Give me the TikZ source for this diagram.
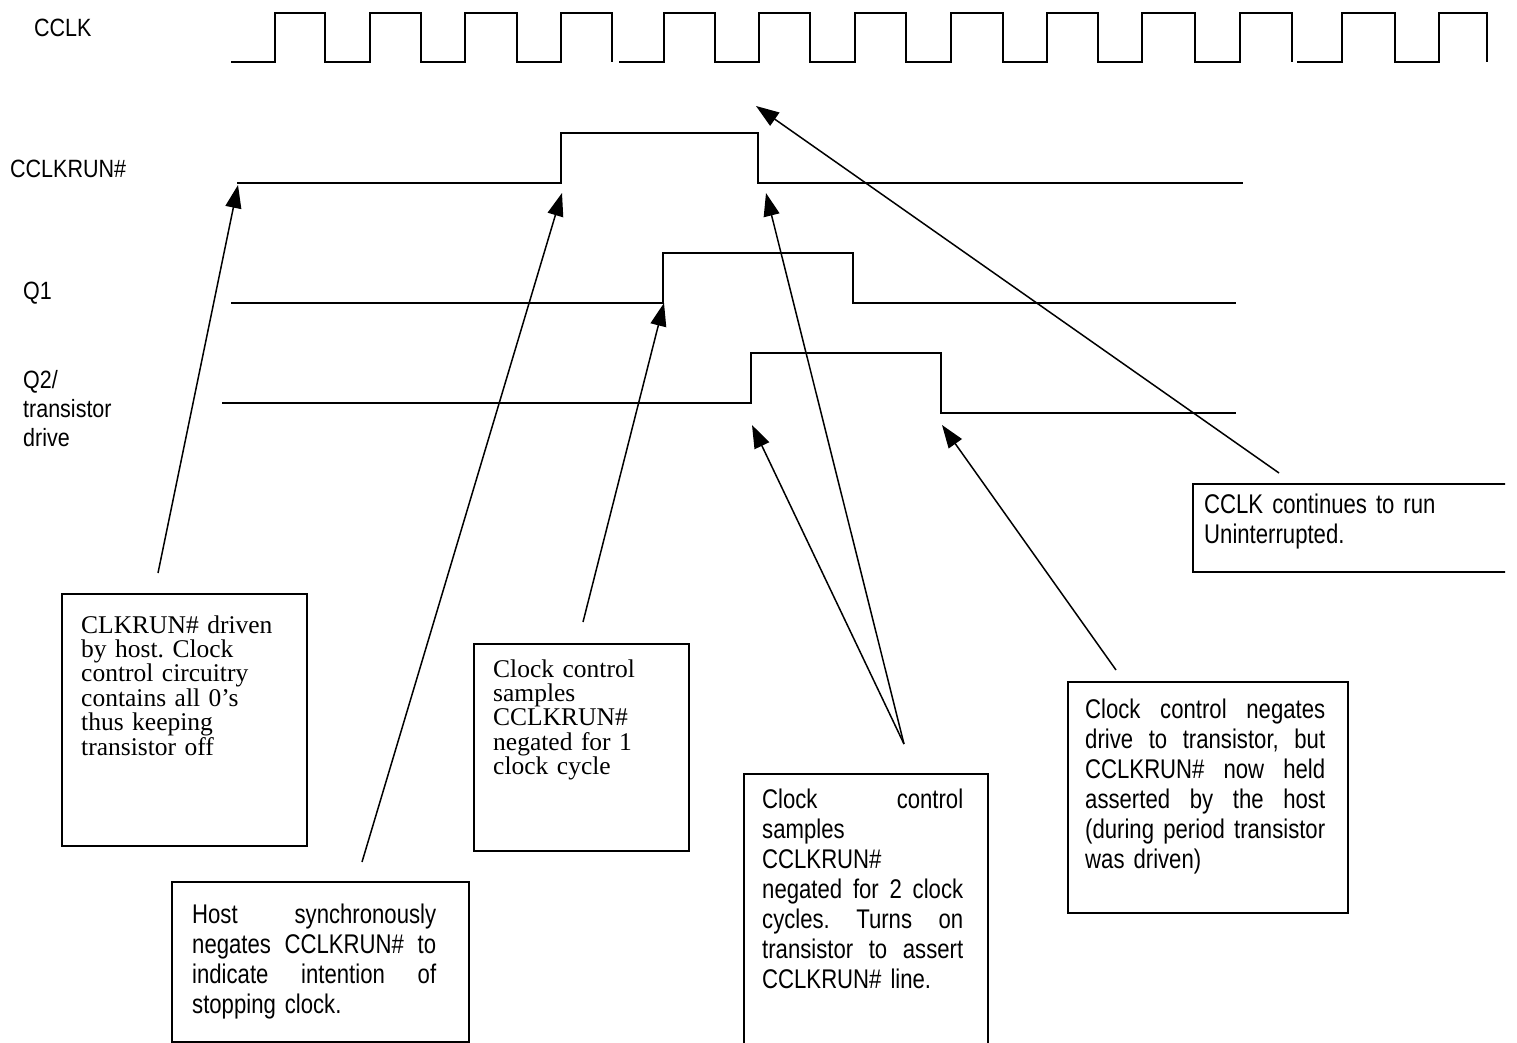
\documentclass[tikz,border=0pt]{standalone}
\usepackage{fontspec}
\setmainfont{Liberation Serif}
\newfontfamily\boxsans[FakeStretch=0.82]{Liberation Sans}
\newfontfamily\labsans[FakeStretch=0.86]{Liberation Sans}
\usetikzlibrary{arrows.meta}
\frenchspacing
\tikzset{
  sig/.style={line width=2pt, line join=miter},
  arr/.style={-{Triangle[length=23pt,width=16pt]}, line width=1.5pt},
  boxnode/.style={draw, line width=2pt, rectangle, inner sep=0pt, anchor=north west},
  sertext/.style={font=\frenchspacing\fontsize{25.5}{24.4}\selectfont, align=left, inner sep=0pt, anchor=base west},
  santext/.style={font=\frenchspacing\boxsans\fontsize{27}{30}\selectfont, align=left, inner sep=0pt, anchor=base west},
  labtext/.style={font=\labsans\fontsize{25}{29}\selectfont, align=left, inner sep=0pt, anchor=base west},
}
% a justified line of given width: words separated by \hfill
\newcommand{\jl}[2]{\leavevmode\hbox to #1{#2}}
\begin{document}
\begin{tikzpicture}[x=1pt,y=-1pt]
\useasboundingbox (0,0) rectangle (1517,1043);
\fill[white] (0,0) rectangle (1517,1043);

% signal labels
\node[labtext] (lclk) at (34,37) {CCLK};
\node[labtext] (lrun) at (10,178) {CCLKRUN\#};
\node[labtext] (lq1) at (23,299) {Q1};
\node[labtext, text width=120pt] (lq2) at (23,388) {Q2/\\transistor\\drive};

% clock waveform
\draw[sig] (231,62) -- (275,62) -- (275,13) -- (325,13) -- (325,62) -- (370,62) -- (370,13) -- (421,13) -- (421,62) -- (465,62) -- (465,13) -- (517,13) -- (517,62) -- (561,62) -- (561,13) -- (612,13) -- (612,62);
\draw[sig] (619,62) -- (664,62) -- (664,13) -- (715,13) -- (715,62) -- (759,62) -- (759,13) -- (810,13) -- (810,62) -- (855,62) -- (855,13) -- (906,13) -- (906,62) -- (951,62) -- (951,13) -- (1003,13) -- (1003,62) -- (1047,62) -- (1047,13) -- (1098,13) -- (1098,62) -- (1142,62) -- (1142,13) -- (1195,13) -- (1195,62) -- (1240,62) -- (1240,13) -- (1292,13) -- (1292,62);
\draw[sig] (1297,62) -- (1342,62) -- (1342,13) -- (1395,13) -- (1395,62) -- (1439,62) -- (1439,13) -- (1487,13) -- (1487,62);

% CCLKRUN#
\draw[sig] (237,183) -- (561,183) -- (561,133) -- (758,133) -- (758,183) -- (1243,183);
% Q1
\draw[sig] (231,303) -- (663,303) -- (663,253) -- (853,253) -- (853,303) -- (1236,303);
% Q2
\draw[sig] (222,403) -- (751,403) -- (751,353) -- (941,353) -- (941,413) -- (1236,413);

% boxes
\node[boxnode, minimum width=245pt, minimum height=252pt] (bA) at (61,593) {};
\node[boxnode, minimum width=297pt, minimum height=160pt] (bB) at (171,881) {};
\node[boxnode, minimum width=215pt, minimum height=207pt] (bC) at (473,643) {};
\node[boxnode, minimum width=280pt, minimum height=231pt] (bE) at (1067,681) {};
\begin{scope}
  \clip (0,0) rectangle (1505,1043);
  \node[boxnode, minimum width=244pt, minimum height=300pt] (bD) at (743,773) {};
  \node[boxnode, minimum width=340pt, minimum height=88pt] (bF) at (1192,483) {};
\end{scope}

% box texts
\node[sertext, text width=215pt] (tA) at (81,633) {CLKRUN\# driven\\by host. Clock\\control circuitry\\contains all 0’s\\thus keeping\\transistor off};
\node[santext, text width=244pt] (tB) at (192,923) {\jl{244pt}{Host\hfill synchronously}\\\jl{244pt}{negates\hfill CCLKRUN\#\hfill to}\\\jl{244pt}{indicate\hfill intention\hfill of}\\stopping clock.};
\node[sertext, text width=185pt] (tC) at (493,677) {Clock control\\samples\\CCLKRUN\#\\negated for 1\\clock cycle};
\node[santext, text width=201pt] (tD) at (762,808) {\jl{201pt}{Clock\hfill control}\\samples\\CCLKRUN\#\\\jl{201pt}{negated\hfill for\hfill 2\hfill clock}\\\jl{201pt}{cycles.\hfill Turns\hfill on}\\\jl{201pt}{transistor\hfill to\hfill assert}\\CCLKRUN\# line.};
\node[santext, text width=240pt] (tE) at (1085,718) {\jl{240pt}{Clock\hfill control\hfill negates}\\\jl{240pt}{drive\hfill to\hfill transistor,\hfill but}\\\jl{240pt}{CCLKRUN\#\hfill now\hfill held}\\\jl{240pt}{asserted\hfill by\hfill the\hfill host}\\\jl{240pt}{(during\hfill period\hfill transistor}\\was driven)};
\node[santext, text width=290pt] (tF) at (1204,513) {CCLK continues to run\\Uninterrupted.};

% arrow end points
\coordinate (sA) at (158,573);  \coordinate (eA) at (238,185);
\coordinate (sB) at (362,862);  \coordinate (eB) at (562,193);
\coordinate (sC) at (583,622);  \coordinate (eC) at (664,303);
\coordinate (sD) at (904,744);  \coordinate (eD1) at (752,425); \coordinate (eD2) at (766,193);
\coordinate (sE) at (1116,670); \coordinate (eE) at (942,425);
\coordinate (sF) at (1279,473); \coordinate (eF) at (756,106);

\draw[arr] (sA) -- (eA);
\draw[arr] (sB) -- (eB);
\draw[arr] (sC) -- (eC);
\draw[arr] (sD) -- (eD1);
\draw[arr] (sD) -- (eD2);
\draw[arr] (sE) -- (eE);
\draw[arr] (sF) -- (eF);
\end{tikzpicture}
\end{document}
